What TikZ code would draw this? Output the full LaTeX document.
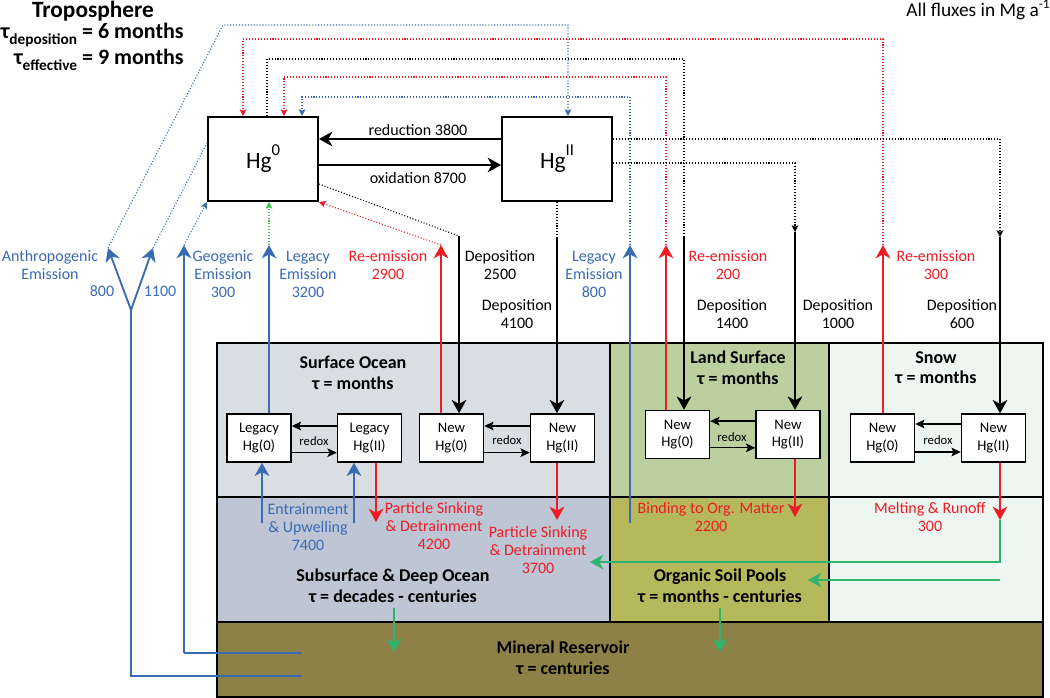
\documentclass[tikz,border=0pt]{standalone}
\usepackage{fontspec}
\setmainfont{Carlito}
\usetikzlibrary{arrows.meta,calc}
\definecolor{hgblue}{HTML}{3A6AB4}
\definecolor{hgred}{HTML}{ED1C24}
\definecolor{hggreen}{HTML}{2DB56F}
\definecolor{hgdotgreen}{HTML}{3DBE4A}
\definecolor{oceanfill}{HTML}{D9DEE2}
\definecolor{landfill}{HTML}{BBCF9F}
\definecolor{snowfill}{HTML}{EDF6F1}
\definecolor{deepfill}{HTML}{BEC5D4}
\definecolor{soilfill}{HTML}{B5B85B}
\definecolor{minfill}{HTML}{8D8147}
\newcommand\hgsup[1]{\raisebox{0.55em}{\fontsize{12.5}{12.5}\selectfont #1}}
\newcommand\tausub[1]{\raisebox{-0.3em}{\fontsize{11.5}{11.5}\selectfont\bfseries #1}}
\begin{document}
\begin{tikzpicture}[x=0.75pt,y=-0.75pt,
  bigbox/.style={draw,line width=1.5pt,fill=white,minimum width=82.5pt,minimum height=63pt,inner sep=0pt,font=\fontsize{17.5}{20}\selectfont},
  smallbox/.style={draw,line width=1.1pt,fill=white,minimum width=48pt,minimum height=36pt,inner sep=0pt,align=center,font=\fontsize{11}{13}\selectfont},
  region/.style={draw,line width=1.1pt,anchor=north west,inner sep=0pt,outer sep=0pt},
  head/.style={align=center,font=\fontsize{13.5}{15.5}\selectfont\bfseries},
  lab/.style={align=center,inner sep=1pt,font=\fontsize{12}{13.5}\selectfont},
  bl/.style={lab,text=hgblue},
  rl/.style={lab,text=hgred},
  redoxlab/.style={inner sep=0pt,font=\fontsize{9.5}{10}\selectfont},
  bighead/.style={-{Stealth[length=10pt,width=11pt,inset=3pt]}},
  fluxline/.style={line width=1.4pt},
  bflux/.style={fluxline,draw=hgblue,bighead},
  rflux/.style={fluxline,draw=hgred,bighead},
  kflux/.style={fluxline,draw=black,bighead},
  gflux/.style={line width=1.2pt,draw=hggreen,bighead},
  redox/.style={line width=1pt,-{Stealth[length=7pt,width=6.5pt,inset=1.5pt]}},
  dots/.style={line width=0.8pt,dash pattern=on 0.8pt off 1.4pt},
  dothead/.style={-{Stealth[length=5pt,width=5pt,inset=1pt]}}
]
\useasboundingbox (0,0) rectangle (1050,698);

% ---------- regions ----------
\node[region,fill=oceanfill,minimum width=294.75pt,minimum height=115.5pt] (ocean) at (217,343) {};
\node[region,fill=landfill,minimum width=164.25pt,minimum height=115.5pt] (land) at (610,343) {};
\node[region,fill=snowfill,minimum width=160.5pt,minimum height=115.5pt] (snow) at (829,343) {};
\node[region,fill=deepfill,minimum width=294.75pt,minimum height=93.75pt] (deep) at (217,497) {};
\node[region,fill=soilfill,minimum width=164.25pt,minimum height=93.75pt] (soil) at (610,497) {};
\node[region,fill=snowfill,minimum width=160.5pt,minimum height=93.75pt] (snowlow) at (829,497) {};
\node[region,fill=minfill,minimum width=619.5pt,minimum height=56.25pt] (mineral) at (217,622) {};

\node[head] (oceanlab) at (353,373) {Surface Ocean\\τ = months};
\node[head] (landlab) at (738,367.5) {Land Surface\\τ = months};
\node[head] (snowlab) at (936,367.5) {Snow\\τ = months};
\node[head] (deeplab) at (393,585.5) {Subsurface \& Deep Ocean\\τ = decades - centuries};
\node[head] (soillab) at (720,585.5) {Organic Soil Pools\\τ = months - centuries};
\node[head] (minlab) at (563,658) {Mineral Reservoir\\τ = centuries};

% ---------- title texts ----------
\node[font=\fontsize{17.5}{19}\selectfont\bfseries,inner sep=0pt] (tropo) at (93,11) {Troposphere};
\node[font=\fontsize{16.5}{18}\selectfont\bfseries,inner sep=0pt,anchor=east] (taudep) at (184,35) {τ\tausub{deposition} = 6 months};
\node[font=\fontsize{16.5}{18}\selectfont\bfseries,inner sep=0pt,anchor=east] (taueff) at (184,60) {τ\tausub{effective} = 9 months};
\node[font=\fontsize{14.5}{16}\selectfont,inner sep=0pt,anchor=base east] (units) at (1050,17) {All fluxes in Mg a\raisebox{0.42em}{\fontsize{10}{10}\selectfont -1}};

% ---------- atmosphere boxes ----------
\node[bigbox] (hg0) at (263,159) {Hg\hgsup{0}};
\node[bigbox] (hg2) at (557,159) {Hg\hgsup{II}};
\draw[line width=1.2pt,bighead] ([yshift=15pt]hg2.west) -- ([yshift=15pt]hg0.east);
\draw[line width=1.2pt,bighead] ([yshift=-4.5pt]hg0.east) -- ([yshift=-4.5pt]hg2.west);
\node[lab,font=\fontsize{12}{14}\selectfont] (redlab) at (418,130) {reduction 3800};
\node[lab,font=\fontsize{12}{14}\selectfont] (oxlab) at (418,178) {oxidation 8700};

% ---------- small boxes ----------
\node[smallbox] (lo0) at (259,438) {Legacy\\Hg(0)};
\node[smallbox] (lo2) at (369.5,438) {Legacy\\Hg(II)};
\node[smallbox] (no0) at (451.5,438) {New\\Hg(0)};
\node[smallbox] (no2) at (562.5,438) {New\\Hg(II)};
\node[smallbox] (ln0) at (677.5,434.5) {New\\Hg(0)};
\node[smallbox] (ln2) at (788,434.5) {New\\Hg(II)};
\node[smallbox] (sn0) at (882.5,438) {New\\Hg(0)};
\node[smallbox] (sn2) at (993.5,438) {New\\Hg(II)};

\draw[redox] ([yshift=9pt]lo2.west) -- ([yshift=9pt]lo0.east);
\draw[redox] ([yshift=-11pt]lo0.east) -- ([yshift=-11pt]lo2.west);
\draw[redox] ([yshift=9pt]no2.west) -- ([yshift=9pt]no0.east);
\draw[redox] ([yshift=-11pt]no0.east) -- ([yshift=-11pt]no2.west);
\draw[redox] ([yshift=10pt]ln2.west) -- ([yshift=10pt]ln0.east);
\draw[redox] ([yshift=-10pt]ln0.east) -- ([yshift=-10pt]ln2.west);
\draw[redox] ([yshift=10.5pt]sn2.west) -- ([yshift=10.5pt]sn0.east);
\draw[redox] ([yshift=-10.5pt]sn0.east) -- ([yshift=-10.5pt]sn2.west);
\node[redoxlab] (rx1) at (314,441) {redox};
\node[redoxlab] (rx2) at (507,440) {redox};
\node[redoxlab] (rx3) at (732,437) {redox};
\node[redoxlab] (rx4) at (938,440) {redox};

% ---------- coordinates ----------
\coordinate (abr) at (131,310);
\coordinate (tipA1) at (108,248);
\coordinate (tipA2) at (153,248);
\coordinate (acorner) at (131,676);
\coordinate (aend) at (302,676);
\coordinate (tipG) at (184,245);
\coordinate (gcorner) at (184,653);
\coordinate (gend) at (302,653);
\coordinate (anthtop) at (223,25);
\coordinate (anthright) at (568,25);
\coordinate (tipLE) at (269,245);
\coordinate (ent1) at (262,523);
\coordinate (ent2) at (354,523);
\coordinate (ps1) at (376,522);
\coordinate (tipR29) at (441,245);
\coordinate (d25) at (459,236);
\coordinate (d41) at (557,237);
\coordinate (ps2) at (557,520);
\coordinate (le8b) at (630,523);
\coordinate (le8t) at (630,245);
\coordinate (le8c) at (630,97);
\coordinate (le8d) at (302,97);
\coordinate (tipR2) at (666,245);
\coordinate (r2c) at (666,77);
\coordinate (r2d) at (284,77);
\coordinate (d14) at (684,237);
\coordinate (d14c) at (684,59);
\coordinate (d14d) at (267,59);
\coordinate (d10c) at (795,163);
\coordinate (d10) at (795,232);
\coordinate (bind2) at (795,517);
\coordinate (tipR3) at (883,245);
\coordinate (r3c) at (883,39);
\coordinate (r3d) at (243,39);
\coordinate (d6c) at (1000,139);
\coordinate (d6) at (1000,237);
\coordinate (m3) at (1000,520);
\coordinate (g1c) at (1000,562);
\coordinate (g1e) at (590,562);
\coordinate (g2c) at (1000,580);
\coordinate (g2e) at (808,580);
\coordinate (gd1) at (394,608);
\coordinate (gd1e) at (394,652);
\coordinate (gd2) at (720,608);
\coordinate (gd2e) at (720,652);

% ---------- anthropogenic & geogenic ----------
\draw[fluxline,draw=hgblue] (aend) -- (acorner) -- (abr);
\draw[bflux] (abr) -- (tipA1);
\draw[bflux] (abr) -- (tipA2);
\draw[dots,draw=hgblue,dothead] (tipA1) -- (anthtop) -- (anthright) -- (anthright |- hg2.north);
\draw[dots,draw=hgblue] (tipA2) -- ([yshift=12pt]hg0.west);
\draw[fluxline,draw=hgblue] (gend) -- (gcorner);
\draw[bflux] (gcorner) -- (tipG);
\draw[dots,draw=hgblue,dothead] (tipG) -- (hg0.south west);

% ---------- ocean ----------
\draw[bflux] (tipLE |- lo0.north) -- (tipLE);
\draw[dots,draw=hgdotgreen,dothead] (tipLE) -- (tipLE |- hg0.south);
\draw[bflux] (ent1) -- (ent1 |- lo0.south);
\draw[bflux] (ent2) -- (ent2 |- lo2.south);
\draw[rflux] (ps1 |- lo2.south) -- (ps1);
\draw[rflux] (tipR29 |- no0.north) -- (tipR29);
\draw[dots,draw=hgred,dothead] (tipR29) -- (hg0.south east);
\draw[dots] ([yshift=-18.75pt]hg0.east) -- (d25);
\draw[kflux] (d25) -- (d25 |- no0.north);
\draw[dots] (hg2.south) -- (d41);
\draw[kflux] (d41) -- (d41 |- no2.north);
\draw[rflux] (ps2 |- no2.south) -- (ps2);

% ---------- land ----------
\draw[bflux] (le8b) -- (le8t);
\draw[dots,draw=hgblue,dothead] (le8t) -- (le8c) -- (le8d) -- (le8d |- hg0.north);
\draw[rflux] (tipR2 |- ln0.north) -- (tipR2);
\draw[dots,draw=hgred,dothead] (tipR2) -- (r2c) -- (r2d) -- (r2d |- hg0.north);
\draw[dots] (d14d |- hg0.north) -- (d14d) -- (d14c) -- (d14);
\draw[kflux] (d14) -- (d14 |- ln0.north);
\draw[dots,dothead] ([yshift=-3pt]hg2.east) -- (d10c) -- (d10);
\draw[kflux] (d10) -- (d10 |- ln2.north);
\draw[rflux] (bind2 |- ln2.south) -- (bind2);

% ---------- snow ----------
\draw[rflux] (tipR3 |- sn0.north) -- (tipR3);
\draw[dots,draw=hgred,dothead] (tipR3) -- (r3c) -- (r3d) -- (r3d |- hg0.north);
\draw[dots,dothead] ([yshift=15pt]hg2.east) -- (d6c) -- (d6);
\draw[kflux] (d6) -- (d6 |- sn2.north);
\draw[rflux] (m3 |- sn2.south) -- (m3);
\draw[gflux] (m3) -- (g1c) -- (g1e);
\draw[gflux] (g2c) -- (g2e);

% ---------- to mineral ----------
\draw[gflux] (gd1) -- (gd1e);
\draw[gflux] (gd2) -- (gd2e);

% ---------- labels ----------
\node[bl] (anthro) at (50,265) {Anthropogenic\\Emission};
\node[bl] (a800) at (102,291) {800};
\node[bl] (a1100) at (160,291) {1100};
\node[bl] (geo) at (223,274) {Geogenic\\Emission\\300};
\node[bl] (leg3200) at (308,274) {Legacy\\Emission\\3200};
\node[rl] (re2900) at (388,265) {Re-emission\\2900};
\node[lab] (dep2500) at (500,265) {Deposition\\2500};
\node[lab] (dep4100) at (517,314) {Deposition\\4100};
\node[bl] (leg800) at (594,274) {Legacy\\Emission\\800};
\node[rl] (re200) at (728,265) {Re-emission\\200};
\node[lab] (dep1400) at (732,314) {Deposition\\1400};
\node[lab] (dep1000) at (838,314) {Deposition\\1000};
\node[rl] (re300) at (936,265) {Re-emission\\300};
\node[lab] (dep600) at (962,314) {Deposition\\600};
\node[bl] (entr) at (308,527) {Entrainment\\\& Upwelling\\7400};
\node[rl] (ps4200) at (434,526) {Particle Sinking\\\& Detrainment\\4200};
\node[rl] (ps3700) at (538,550) {Particle Sinking\\\& Detrainment\\3700};
\node[rl] (bind) at (711,517) {Binding to Org. Matter\\2200};
\node[rl] (melt) at (930,517) {Melting \& Runoff\\300};
\end{tikzpicture}
\end{document}
